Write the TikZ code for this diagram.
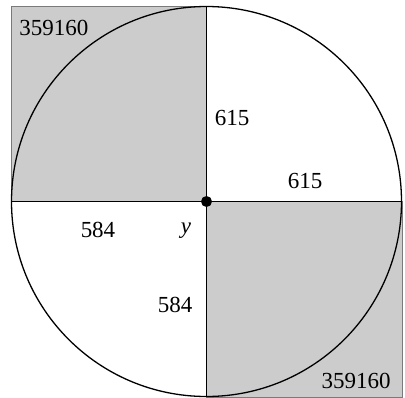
\documentclass[tikz,border=0pt]{standalone}
\usepackage{fontspec}
\setmainfont{Liberation Serif}
\definecolor{shade}{HTML}{CCCCCC}
\definecolor{edge}{HTML}{7A7A7A}
\begin{document}
\begin{tikzpicture}[x=1pt,y=-1pt,
  lab/.style={inner sep=0pt,anchor=base,font=\fontsize{23}{23}\selectfont},
  sq/.style={fill=shade,draw=edge,line width=0.7pt},
  ln/.style={line width=1.3pt,black}]
\useasboundingbox (0,0) rectangle (405,397);
\coordinate (O) at (206.5,201.5);
\coordinate (T) at (206.5,6.5);
\coordinate (B) at (206.5,396.5);
\coordinate (L) at (11.5,201.5);
\coordinate (R) at (401.5,201.5);
\coordinate (TL) at (11,6);
\coordinate (BR) at (402,397);
\draw[sq] (TL) rectangle (O);
\draw[sq] (O) rectangle (BR);
\draw[ln] (O) circle[radius=195];
\draw[ln] (T) -- (B);
\draw[ln] (L) -- (R);
\fill (O) circle[radius=5.5];
\node[lab] (a1) at (54,35) {359160};
\node[lab] (b1) at (232,125) {615};
\node[lab] (b2) at (305,188) {615};
\node[lab] (c1) at (98,237) {584};
\node[lab] (yy) at (186,233) {\itshape y};
\node[lab] (c2) at (175,312) {584};
\node[lab] (a2) at (356,388) {359160};
\end{tikzpicture}
\end{document}
